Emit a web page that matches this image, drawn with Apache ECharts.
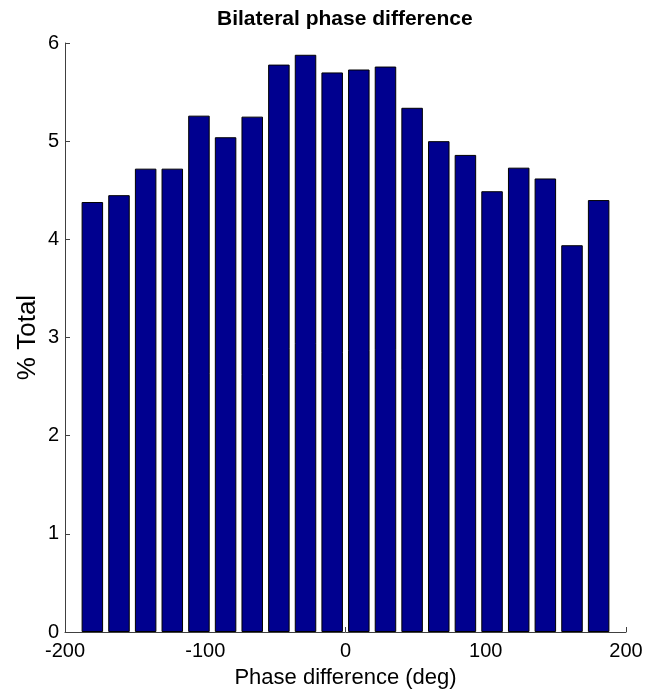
<!DOCTYPE html>
<html>
<head>
<meta charset="utf-8">
<script src="https://cdn.jsdelivr.net/npm/echarts@6/dist/echarts.min.js"></script>
<style>html,body{margin:0;padding:0;background:#fff}#c{width:656px;height:690px}</style>
</head>
<body>
<div id="c"></div>
<script>
var binCenters = [-180.5, -161.5, -142.5, -123.5, -104.5, -85.5, -66.5, -47.5, -28.5, -9.5, 9.5, 28.5, 47.5, 66.5, 85.5, 104.5, 123.5, 142.5, 161.5, 180.5];
var percentTotal = [4.38, 4.45, 4.72, 4.72, 5.26, 5.04, 5.25, 5.78, 5.88, 5.70, 5.73, 5.76, 5.34, 5.00, 4.86, 4.49, 4.73, 4.62, 3.94, 4.40];
var xTicks = [-200, -100, 0, 100, 200];
var yTicks = [0, 1, 2, 3, 4, 5, 6];

var chart = echarts.init(document.getElementById('c'), null, {renderer: 'canvas'});
var font = 'Liberation Sans, Arial, Helvetica, sans-serif';
var axisColor = '#404040';
chart.setOption({
  animation: false,
  backgroundColor: '#fff',
  title: {
    text: 'Bilateral phase difference',
    left: 212,
    top: 4,
    textStyle: {fontFamily: font, fontSize: 21, fontWeight: 'bold', color: '#000'}
  },
  grid: {left: 65, right: 30, top: 43, bottom: 58, containLabel: false, outerBoundsMode: 'none'},
  xAxis: {
    type: 'value',
    min: xTicks[0], max: xTicks[xTicks.length - 1], interval: 100,
    name: 'Phase difference (deg)',
    nameLocation: 'middle',
    nameGap: 35,
    nameMoveOverlap: false,
    nameTextStyle: {fontFamily: font, fontSize: 22, color: '#000'},
    axisLine: {show: true, onZero: false, lineStyle: {color: axisColor, width: 1}},
    axisTick: {show: true, inside: true, length: 5, lineStyle: {color: axisColor}},
    axisLabel: {fontFamily: font, fontSize: 20, color: '#000', margin: 9},
    splitLine: {show: false}
  },
  yAxis: {
    type: 'value',
    min: yTicks[0], max: yTicks[yTicks.length - 1], interval: 1,
    name: '% Total',
    nameLocation: 'middle',
    nameGap: 24,
    nameRotate: 90,
    nameMoveOverlap: false,
    nameTextStyle: {fontFamily: font, fontSize: 26, color: '#000'},
    axisLine: {show: true, onZero: false, lineStyle: {color: axisColor, width: 1}},
    axisTick: {show: true, inside: true, length: 5, lineStyle: {color: axisColor}},
    axisLabel: {fontFamily: font, fontSize: 20, color: '#000', margin: 6},
    splitLine: {show: false}
  },
  series: [{
    type: 'bar',
    data: binCenters.map(function (x, i) { return [x, percentTotal[i]]; }),
    barWidth: 21.5,
    itemStyle: {color: '#00008F', borderColor: '#000', borderWidth: 1}
  }]
});
</script>
</body>
</html>
